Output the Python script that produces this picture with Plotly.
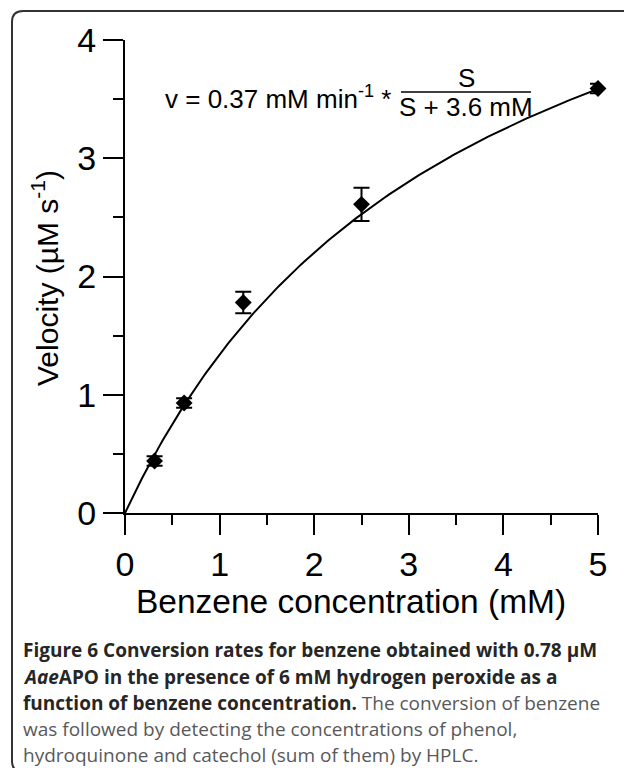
import numpy as np
import plotly.graph_objects as go

# ---- data ----
benzene_mM = [0.3125, 0.625, 1.25, 2.5, 5.0]
velocity = [0.44, 0.93, 1.78, 2.61, 3.59]
velocity_err = [0.04, 0.04, 0.09, 0.14, 0.04]
x_ticks = [0, 1, 2, 3, 4, 5]
y_ticks = [0, 1, 2, 3, 4]

# fitted Michaelis-Menten parameters shown on the chart
VMAX_mM_per_min = 0.37
KM_mM = 3.6
VMAX_uM_per_s = VMAX_mM_per_min * 1000 / 60

s_fit = np.linspace(0, 5, 200)
v_fit = VMAX_uM_per_s * s_fit / (s_fit + KM_mM)

W, H = 624, 768
L, R, T, B = 125, 26, 40, 255
PW = W - L - R
PH = H - T - B


def px(x):
    return (x - L) / PW


def py(y):
    return (T + PH - y) / PH


ARIAL = "Liberation Sans, Arial, sans-serif"
CAP = "Open Sans, Segoe UI, sans-serif"

fig = go.Figure()
fig.add_trace(go.Scatter(x=s_fit, y=v_fit, mode="lines",
                         line=dict(color="black", width=2),
                         cliponaxis=False, hoverinfo="skip"))
fig.add_trace(go.Scatter(x=benzene_mM, y=velocity, mode="markers",
                         marker=dict(symbol="diamond", size=13, color="black"),
                         error_y=dict(type="data", array=velocity_err,
                                      thickness=2, width=8, color="black"),
                         cliponaxis=False))

axis_common = dict(showline=True, linewidth=2, linecolor="black",
                   ticks="outside", ticklen=20, tickwidth=2, tickcolor="black",
                   showgrid=False, zeroline=False,
                   tickfont=dict(family=ARIAL, size=34, color="black"),
                   minor=dict(ticks="outside", ticklen=10, tickwidth=2,
                              tickcolor="black", dtick=0.5, showgrid=False))

fig.update_xaxes(range=[0, 5], tickvals=x_ticks, **axis_common)
fig.update_yaxes(range=[0, 4], tickvals=y_ticks, **axis_common)

ann = []
# axis titles
ann.append(dict(text="Benzene concentration (mM)", x=px(351), y=py(601),
                xref="paper", yref="paper", showarrow=False,
                xanchor="center", yanchor="middle",
                font=dict(family=ARIAL, size=33.5, color="black")))
ann.append(dict(text="Velocity (µM s<sup>-1</sup>)", x=px(45), y=py(278),
                xref="paper", yref="paper", showarrow=False, textangle=-90,
                xanchor="center", yanchor="middle",
                font=dict(family=ARIAL, size=30, color="black")))
# equation
eq_font = dict(family=ARIAL, size=26, color="black")
ann.append(dict(text="v = 0.37 mM min<sup>-1</sup> *", x=px(163), y=py(98),
                xref="paper", yref="paper", showarrow=False,
                xanchor="left", yanchor="middle", font=eq_font))
ann.append(dict(text="S", x=px(466), y=py(78), xref="paper", yref="paper",
                showarrow=False, xanchor="center", yanchor="middle", font=eq_font))
ann.append(dict(text="S + 3.6 mM", x=px(466), y=py(107), xref="paper", yref="paper",
                showarrow=False, xanchor="center", yanchor="middle", font=eq_font))

# caption
DARK = "#262626"
caption_lines = [
    f"<span style='color:{DARK}'><b>Figure 6 Conversion rates for benzene obtained with 0.78 µM</b></span>",
    f"<span style='color:{DARK}'><b><i>Aae</i>APO in the presence of 6 mM hydrogen peroxide as a</b></span>",
    f"<span style='color:{DARK}'><b>function of benzene concentration.</b></span> The conversion of benzene",
    "was followed by detecting the concentrations of phenol,",
    "hydroquinone and catechol (sum of them) by HPLC.",
]
cap_y = [650, 677, 703, 729, 755]
for line, yy in zip(caption_lines, cap_y):
    ann.append(dict(text=line, x=px(21), y=py(yy), xref="paper", yref="paper",
                    showarrow=False, xanchor="left", yanchor="middle",
                    font=dict(family=CAP, size=19, color="#58595b")))

# frame and fraction bar
lf, tp, rt, bt, r = 12, 11, 640, 772, 11
frame_path = (f"M {px(rt)},{py(tp)} L {px(lf + r)},{py(tp)} "
              f"Q {px(lf)},{py(tp)} {px(lf)},{py(tp + r)} "
              f"L {px(lf)},{py(bt - r)} Q {px(lf)},{py(bt)} {px(lf + r)},{py(bt)} "
              f"L {px(rt)},{py(bt)}")
shapes = [
    dict(type="path", path=frame_path, xref="paper", yref="paper",
         line=dict(color="#333333", width=2)),
    dict(type="line", x0=px(401), x1=px(531), y0=py(92), y1=py(92),
         xref="paper", yref="paper", line=dict(color="black", width=1.5)),
]

fig.update_layout(width=W, height=H, margin=dict(l=L, r=R, t=T, b=B, autoexpand=False),
                  paper_bgcolor="white", plot_bgcolor="white", showlegend=False,
                  annotations=ann, shapes=shapes)

fig.write_html("out.html", config={"displayModeBar": False},
               post_script="document.body.style.margin='0';document.body.style.overflow='hidden';")
